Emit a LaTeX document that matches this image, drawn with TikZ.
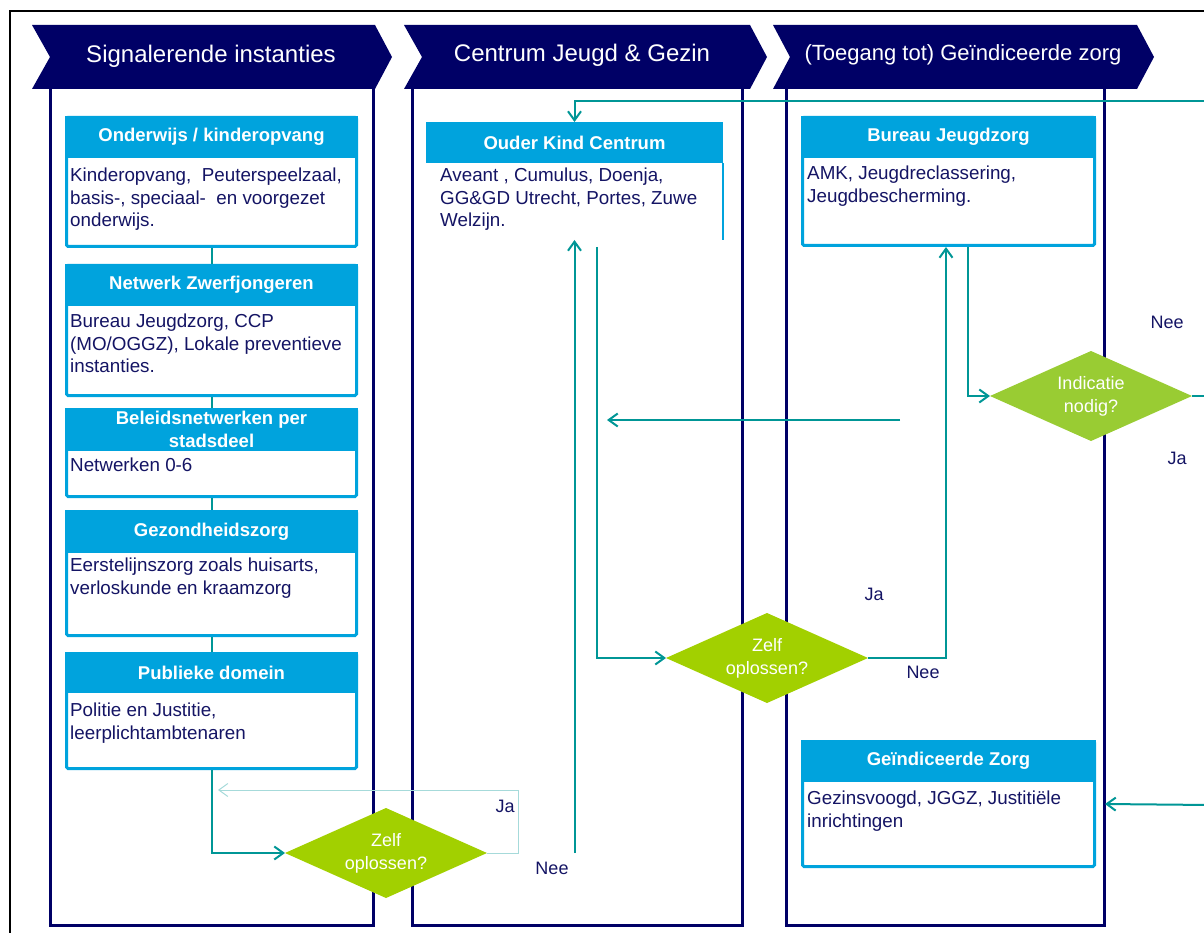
\documentclass[tikz,border=0pt]{standalone}
\usepackage{fontspec}
\setmainfont{Liberation Sans}
\usetikzlibrary{shapes.geometric,arrows.meta,positioning}

\definecolor{hdrnavy}{RGB}{0,0,102}
\definecolor{txtnavy}{RGB}{20,20,100}
\definecolor{boxblue}{RGB}{0,163,221}
\definecolor{flowteal}{RGB}{0,150,150}
\definecolor{decgreen}{RGB}{162,208,0}
\definecolor{decgreenb}{RGB}{153,204,51}

\tikzset{
  lanehead/.style={text=white, inner sep=0pt, font=\fontsize{24}{28}\selectfont},
  lanewall/.style={draw=hdrnavy, line width=3pt},
  infobox/.style={draw=boxblue, line width=3pt, fill=white, minimum width=290pt, rounded corners=1.5pt, inner sep=0pt},
  infohead/.style={fill=boxblue, text=white, minimum width=293pt, minimum height=42pt, inner sep=0pt, outer sep=0pt, align=center, font=\fontsize{18.5}{23}\selectfont\bfseries},
  infotext/.style={text=txtnavy, inner sep=0pt, align=left, font=\fontsize{18.8}{22.5}\selectfont},
  decision/.style={diamond, aspect=2.25, fill=decgreen, text=white, minimum width=202pt, minimum height=90pt, inner sep=0pt, outer sep=0pt, align=center, font=\fontsize{18}{23}\selectfont},
  flow/.style={draw=flowteal, line width=2pt},
  flowthin/.style={draw=flowteal!35, line width=1pt},
  flowlabel/.style={text=txtnavy, inner sep=0pt, font=\fontsize{18}{22}\selectfont}
}

\begin{document}
\begin{tikzpicture}[x=1pt, y=-1pt, >={Straight Barb[length=9pt,width=13pt]}]
  \useasboundingbox (0,0) rectangle (1204,933);

  % frame
  \draw[black, line width=1.5pt] (10,11) rectangle (1230,960);

  % lanes
  \draw[lanewall] (50,89) -- (50,925) -- (373,925) -- (373,89);
  \draw[lanewall] (412,89) -- (412,925) -- (742,925) -- (742,89);
  \draw[lanewall] (786,89) -- (786,925) -- (1104,925) -- (1104,89);

  % lane headers
  \fill[hdrnavy] (32,25) -- (375,25) -- (392,57) -- (375,89) -- (32,89) -- (50,57) -- cycle;
  \fill[hdrnavy] (404,25) -- (750,25) -- (767,57) -- (750,89) -- (404,89) -- (422,57) -- cycle;
  \fill[hdrnavy] (773,25) -- (1137,25) -- (1154,57) -- (1137,89) -- (773,89) -- (790,57) -- cycle;
  \node[lanehead] (signaal) at (211,56) {Signalerende instanties};
  \node[lanehead] (cjg) at (582,55) {Centrum Jeugd \& Gezin};
  \node[lanehead, font=\fontsize{22}{26}\selectfont] (toegang) at (963,55) {(Toegang tot) Geïndiceerde zorg};

  % signalerende instanties
  \node[infobox, minimum height=129pt, anchor=north west] (onderwijs) at (65,116) {};
  \node[infohead, anchor=north] (onderwijs-h) at (onderwijs.north) {Onderwijs / kinderopvang};
  \node[infotext, anchor=north west] (onderwijs-t) at ([xshift=5pt,yshift=-10pt]onderwijs-h.south west) {Kinderopvang,\ \ Peuterspeelzaal,\\basis-, speciaal-\ \ en voorgezet\\onderwijs.};

  \node[infobox, minimum height=130pt, anchor=north west] (zwerf) at (65,264) {};
  \node[infohead, anchor=north] (zwerf-h) at (zwerf.north) {Netwerk Zwerfjongeren};
  \node[infotext, anchor=north west] (zwerf-t) at ([xshift=5pt,yshift=-8pt]zwerf-h.south west) {Bureau Jeugdzorg, CCP\\(MO/OGGZ), Lokale preventieve\\instanties.};

  \node[infobox, minimum height=87pt, anchor=north west] (beleid) at (65,408) {};
  \node[infohead, minimum height=43pt, anchor=north] (beleid-h) at (beleid.north) {Beleidsnetwerken per\\stadsdeel};
  \node[infotext, anchor=north west] (beleid-t) at ([xshift=5pt,yshift=-7pt]beleid-h.south west) {Netwerken 0-6};

  \node[infobox, minimum height=124pt, anchor=north west] (gezond) at (65,510) {};
  \node[infohead, minimum height=43pt, anchor=north] (gezond-h) at (gezond.north) {Gezondheidszorg};
  \node[infotext, anchor=north west] (gezond-t) at ([xshift=5pt,yshift=-5pt]gezond-h.south west) {Eerstelijnszorg zoals huisarts,\\verloskunde en kraamzorg};

  \node[infobox, minimum height=115pt, anchor=north west] (publiek) at (65,652) {};
  \node[infohead, minimum height=41pt, anchor=north] (publiek-h) at (publiek.north) {Publieke domein};
  \node[infotext, anchor=north west] (publiek-t) at ([xshift=5pt,yshift=-10pt]publiek-h.south west) {Politie en Justitie,\\leerplichtambtenaren};

  % centrum jeugd en gezin
  \node[infohead, minimum width=297pt, minimum height=41pt, anchor=north west] (okc) at (426,122) {Ouder Kind Centrum};
  \node[minimum width=297pt, minimum height=77pt, inner sep=0pt, outer sep=0pt, anchor=north west] (okc-b) at (okc.south west) {};
  \draw[boxblue, line width=2pt] (okc-b.north east) -- (okc-b.south east);
  \node[infotext, anchor=north west] (okc-t) at ([xshift=14pt,yshift=-5pt]okc.south west) {Aveant , Cumulus, Doenja,\\GG\&GD Utrecht, Portes, Zuwe\\Welzijn.};

  % geindiceerde zorg
  \node[infobox, minimum width=292pt, minimum height=128pt, anchor=north west] (bjz) at (801,116) {};
  \node[infohead, minimum width=295pt, anchor=north] (bjz-h) at (bjz.north) {Bureau Jeugdzorg};
  \node[infotext, anchor=north west] (bjz-t) at ([xshift=6pt,yshift=-8pt]bjz-h.south west) {AMK, Jeugdreclassering,\\Jeugdbescherming.};

  \node[infobox, minimum width=292pt, minimum height=125pt, anchor=north west] (gz) at (801,740) {};
  \node[infohead, minimum width=295pt, anchor=north] (gz-h) at (gz.north) {Geïndiceerde Zorg};
  \node[infotext, anchor=north west] (gz-t) at ([xshift=6pt,yshift=-9pt]gz-h.south west) {Gezinsvoogd, JGGZ, Justitiële\\inrichtingen};

  % decisions
  \node[decision] (zelfA) at (386,853) {Zelf\\oplossen?};
  \node[decision] (zelfB) at (767,658) {Zelf\\oplossen?};
  \node[decision, fill=decgreenb] (indicatie) at (1091,396) {Indicatie\\nodig?};

  % loose ends
  \coordinate (jaA) at (518,790);
  \coordinate (jaAend) at (218,790);
  \coordinate (neeA) at (574.5,853);
  \coordinate (topR) at (1210,101);
  \coordinate (retS) at (900,420);
  \coordinate (retE) at (607,420);
  \coordinate (indR) at (1210,396);
  \coordinate (gzR) at (1210,805);

  % connectors
  \draw[flow] (onderwijs.south) -- (zwerf.north);
  \draw[flow] (zwerf.south) -- (beleid.north);
  \draw[flow] (beleid.south) -- (gezond.north);
  \draw[flow] (gezond.south) -- (publiek.north);
  \draw[flow,->] (publiek.south) |- (zelfA.west);
  \draw[flowthin,->] (zelfA.east) -| (jaA) -- (jaAend);
  \draw[flow,->] (neeA) -- (okc-b.south);
  \draw[flow,->] ([xshift=22.5pt,yshift=-7pt]okc-b.south) |- (zelfB.west);
  \draw[flow,->] (zelfB.east) -| ([xshift=-2.5pt]bjz.south);
  \draw[flow,->] ([xshift=19pt]bjz.south) |- (indicatie.west);
  \draw[flow,->] (topR) -| (okc.north);
  \draw[flow,->] (retS) -- (retE);
  \draw[flow] (indicatie.east) -- (indR);
  \draw[flow,->] (gzR) -- ([xshift=9pt]gz.east);

  % labels
  \node[flowlabel] (jaAl) at (505,806) {Ja};
  \node[flowlabel] (neeAl) at (552,868) {Nee};
  \node[flowlabel] (jaBl) at (874,594) {Ja};
  \node[flowlabel] (neeBl) at (923,672) {Nee};
  \node[flowlabel] (neeCl) at (1167,322) {Nee};
  \node[flowlabel] (jaCl) at (1177,458) {Ja};
\end{tikzpicture}
\end{document}
